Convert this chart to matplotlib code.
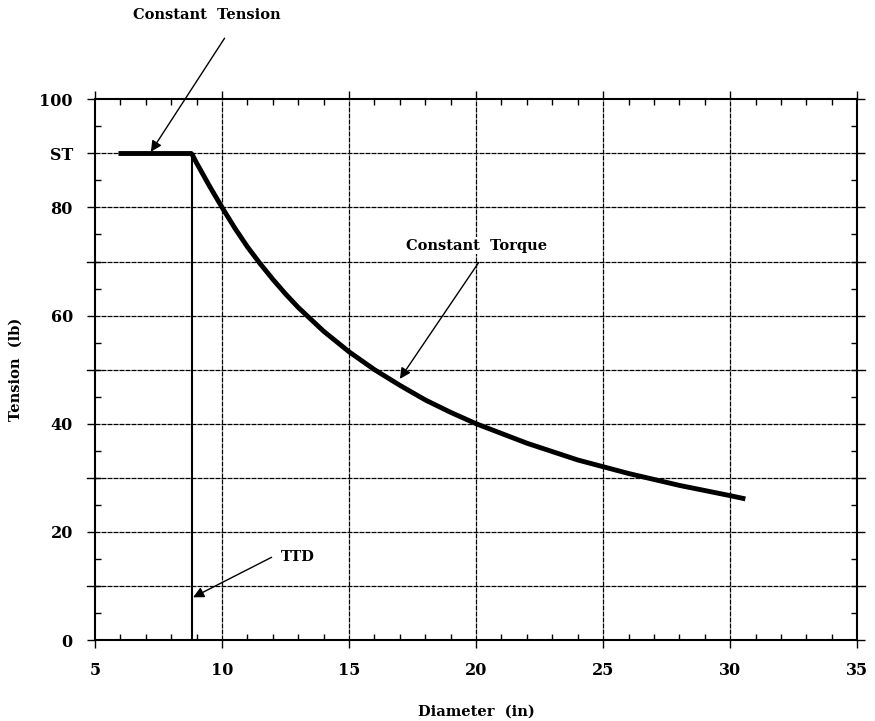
import matplotlib.pyplot as plt
from matplotlib.ticker import MultipleLocator

# flat (constant tension) part
flat_diameter = [5.9, 8.8]
flat_tension = [90, 90]

# constant torque part
torque_diameter = [8.8, 9, 9.5, 10, 10.5, 11, 11.5, 12, 12.5, 13, 14, 15,
                   16, 17, 18, 19, 20, 22, 24, 26, 28, 30, 30.6]
torque_tension = [90, 88.2, 84.0, 80, 76.2, 72.7, 69.6, 66.7, 64.0, 61.5,
                  57.1, 53.3, 50, 47.1, 44.4, 42.1, 40, 36.4, 33.3, 30.8,
                  28.6, 26.7, 26.1]

ttd_diameter = 8.8
st_tension = 90

y_ticks = [0, 20, 40, 60, 80, st_tension, 100]
y_tick_labels = ["0", "20", "40", "60", "80", "ST", "100"]
x_ticks = [5, 10, 15, 20, 25, 30, 35]

FONT = "DejaVu Serif"
GRID = dict(color="black", lw=0.9, ls=(0, (4, 0.8)))


def main():
    fig = plt.figure(figsize=(8.75, 7.21), dpi=100)
    ax = fig.add_axes([0.1086, 0.1123, 0.871, 0.750])

    ax.set_xlim(5, 35)
    ax.set_ylim(0, 100)

    ax.xaxis.set_minor_locator(MultipleLocator(1))
    ax.yaxis.set_minor_locator(MultipleLocator(5))

    ax.tick_params(which="major", direction="out", length=6, width=1,
                   top=True, right=True)
    ax.tick_params(which="minor", direction="in", length=4, width=1,
                   top=True, right=True)
    for s in ax.spines.values():
        s.set_linewidth(1.5)

    ax.set_xticks(x_ticks)
    ax.set_xticklabels([str(v) for v in x_ticks], fontfamily=FONT,
                       fontweight="bold", fontsize=11.5)
    ax.set_yticks(y_ticks)
    ax.set_yticklabels(y_tick_labels, fontfamily=FONT, fontweight="bold",
                       fontsize=11.5)
    ax.tick_params(axis="x", pad=10)
    ax.tick_params(axis="y", pad=10)

    # grid at every 5 on x, every 10 on y
    for xv in x_ticks[1:-1]:
        ax.axvline(xv, **GRID)
    for yv in range(10, 100, 10):
        ax.axhline(yv, **GRID)
    # tick stubs at the unlabelled tens
    for yv in [10, 30, 50, 70]:
        ax.plot([4.7, 5], [yv, yv], color="black", lw=1, clip_on=False)
        ax.plot([35, 35.3], [yv, yv], color="black", lw=1, clip_on=False)

    # curve
    ax.plot(flat_diameter, flat_tension, color="black", lw=3.5,
            solid_capstyle="butt")
    ax.plot(torque_diameter, torque_tension, color="black", lw=3.5,
            solid_capstyle="butt", solid_joinstyle="round")
    ax.plot([ttd_diameter, ttd_diameter], [0, st_tension], color="black",
            lw=1.5)

    arrow = dict(arrowstyle="-|>", color="black", lw=1, mutation_scale=16,
                 shrinkA=0, shrinkB=0)
    txt = dict(fontfamily=FONT, fontweight="bold", fontsize=10.5,
               ha="center", va="center")

    ax.annotate("", xy=(7.2, 90.3), xytext=(10.1, 111.3),
                arrowprops=arrow, annotation_clip=False)
    ax.text(9.4, 115.5, "Constant  Tension", clip_on=False, **txt)

    ax.annotate("", xy=(17.0, 48.3), xytext=(20.1, 69.8),
                arrowprops=arrow)
    ax.text(20.0, 72.9, "Constant  Torque",
            bbox=dict(facecolor="white", edgecolor="none", pad=1), **txt)

    ax.annotate("", xy=(8.86, 7.9), xytext=(11.95, 15.3),
                arrowprops=arrow)
    ax.text(13.0, 15.3, "TTD",
            bbox=dict(facecolor="white", edgecolor="none", pad=1), **txt)

    ax.set_xlabel("Diameter  (in)", fontfamily=FONT, fontweight="bold",
                  fontsize=10.5, labelpad=18)
    ax.set_ylabel("Tension  (lb)", fontfamily=FONT, fontweight="bold",
                  fontsize=10.5, labelpad=12)

    fig.savefig("out.png", dpi=100)


if __name__ == "__main__":
    main()
